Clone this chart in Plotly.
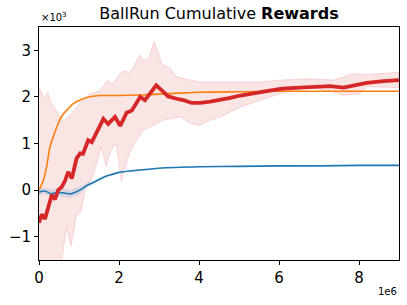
import plotly.graph_objects as go

# x in millions of steps, y in thousands of reward
red_x = [0.0, 0.07, 0.15, 0.23, 0.32, 0.40, 0.48, 0.57, 0.65, 0.73, 0.82, 0.94, 1.03, 1.10, 1.23, 1.32,
         1.42, 1.53, 1.61, 1.73, 1.90, 2.03, 2.19, 2.32, 2.44, 2.53, 2.65, 2.78, 2.93, 3.07, 3.23, 3.44,
         3.61, 3.82, 4.03, 4.28, 4.53, 4.78, 5.03, 5.28, 5.53, 5.78, 6.03, 6.28, 6.53, 6.78, 7.03, 7.28,
         7.61, 7.86, 8.19, 8.61, 9.0]
red_y = [-0.70, -0.52, -0.62, -0.36, -0.10, -0.20, 0.00, 0.07, 0.20, 0.39, 0.25, 0.68, 0.79, 0.78, 1.07, 1.03,
         1.20, 1.39, 1.53, 1.42, 1.57, 1.38, 1.66, 1.71, 1.86, 2.00, 1.93, 2.07, 2.25, 2.14, 2.01, 1.96,
         1.93, 1.87, 1.87, 1.90, 1.93, 1.98, 2.03, 2.07, 2.10, 2.14, 2.17, 2.19, 2.20, 2.23, 2.24, 2.23,
         2.20, 2.25, 2.30, 2.34, 2.36]

red_up_x = [0.0, 0.13, 0.22, 0.30, 0.43, 0.59, 0.76, 1.01, 1.26, 1.51, 1.72, 1.84, 2.01, 2.13, 2.28, 2.53,
            2.61, 2.73, 2.88, 3.07, 3.28, 3.44, 3.78, 4.03, 4.78, 5.53, 6.03, 6.78, 7.36, 7.86, 8.19, 8.69, 9.0]
red_up_y = [2.20, 1.99, 2.10, 1.88, 1.71, 1.46, 1.60, 1.85, 2.06, 2.13, 2.35, 2.28, 2.49, 2.56, 2.53, 2.90,
            2.78, 2.80, 3.20, 2.71, 2.61, 2.43, 2.36, 2.32, 2.32, 2.32, 2.36, 2.39, 2.36, 2.50, 2.48, 2.51, 2.53]

red_lo_x = [0.0, 0.45, 0.57, 0.69, 0.80, 0.93, 1.05, 1.18, 1.30, 1.47, 1.55, 1.68, 1.80, 1.93, 2.06, 2.26,
            2.43, 2.61, 2.86, 3.11, 3.53, 3.78, 4.03, 4.28, 4.53, 5.03, 5.53, 6.03, 6.53, 6.78, 7.36, 7.61,
            8.03, 8.19, 9.0]
red_lo_y = [-2.6, -2.0, -1.5, -0.79, -1.21, -0.57, -0.46, 0.11, 0.20, 0.64, 0.93, 0.50, 0.86, 1.00, 0.20, 0.79,
            1.07, 1.28, 1.39, 1.50, 1.57, 1.43, 1.39, 1.50, 1.57, 1.78, 1.93, 2.07, 2.18, 2.20, 2.10, 2.03,
            2.07, 2.22, 2.20]

orange_x = [0.0, 0.11, 0.20, 0.275, 0.38, 0.48, 0.58, 0.69, 0.85, 1.1, 1.3, 1.53, 2.0, 2.5, 3.0, 3.5, 4.0,
            5.0, 6.0, 7.0, 8.0, 9.0]
orange_y = [0.0, 0.21, 0.55, 0.93, 1.20, 1.43, 1.60, 1.71, 1.85, 1.96, 2.01, 2.03, 2.03, 2.04, 2.06, 2.08, 2.10,
            2.11, 2.12, 2.12, 2.12, 2.12]

blue_x = [0.0, 0.15, 0.3, 0.45, 0.6, 0.8, 1.0, 1.2, 1.4, 1.6, 1.8, 2.0, 2.5, 3.0, 4.0, 5.0, 6.0, 7.0, 8.0, 9.0]
blue_y = [-0.04, -0.02, -0.08, -0.05, -0.06, -0.08, -0.01, 0.10, 0.18, 0.27, 0.33, 0.38, 0.43, 0.47, 0.50,
          0.51, 0.52, 0.52, 0.53, 0.53]
blue_err = [0.07, 0.07, 0.08, 0.09, 0.09, 0.09, 0.08, 0.05, 0.03, 0.02, 0.02, 0.02, 0.015, 0.01, 0.01,
            0.01, 0.01, 0.01, 0.01, 0.01]

x_ticks = [0, 2, 4, 6, 8]
y_ticks = [-1, 0, 1, 2, 3]

RED = "#d62728"
ORANGE = "#ff7f0e"
BLUE = "#1f77b4"
FONT = "DejaVu Sans"

fig = go.Figure()

# red band
fig.add_trace(go.Scatter(x=red_up_x + red_lo_x[::-1], y=red_up_y + red_lo_y[::-1], fill="toself",
                         fillcolor="rgba(214,39,40,0.12)", line=dict(color="rgba(214,39,40,0.15)", width=1),
                         mode="lines", hoverinfo="skip", showlegend=False))

# blue band
b_up = [m + e for m, e in zip(blue_y, blue_err)]
b_lo = [m - e for m, e in zip(blue_y, blue_err)]
fig.add_trace(go.Scatter(x=blue_x + blue_x[::-1], y=b_up + b_lo[::-1], fill="toself",
                         fillcolor="rgba(31,119,180,0.15)", line=dict(width=0), mode="lines",
                         hoverinfo="skip", showlegend=False))

fig.add_trace(go.Scatter(x=orange_x, y=orange_y, mode="lines",
                         line=dict(color=ORANGE, width=1.6, shape="spline", smoothing=0.8), showlegend=False))
fig.add_trace(go.Scatter(x=blue_x, y=blue_y, mode="lines",
                         line=dict(color=BLUE, width=1.6, shape="spline", smoothing=0.8), showlegend=False))
fig.add_trace(go.Scatter(x=red_x, y=red_y, mode="lines",
                         line=dict(color=RED, width=3.8), showlegend=False))

axis_common = dict(showgrid=False, zeroline=False, showline=True, linecolor="black", linewidth=1,
                   mirror=True, ticks="outside", ticklen=4, tickwidth=1, tickcolor="black", automargin=False,
                   tickfont=dict(family=FONT, size=15, color="black"))

fig.update_layout(
    template="none",
    width=407, height=305,
    margin=dict(l=39, r=8, t=27, b=45, autoexpand=False),
    paper_bgcolor="white", plot_bgcolor="white",
    title=dict(text="BallRun Cumulative <b>Rewards</b>", x=0.538, xanchor="center", y=0.955, yanchor="middle",
               font=dict(family=FONT, size=16, color="black")),
    xaxis=dict(range=[0, 9], tickvals=x_ticks, ticktext=[str(v) for v in x_ticks], **axis_common),
    yaxis=dict(range=[-1.5, 3.5], tickvals=y_ticks, ticktext=[str(v).replace("-", "\u2212") for v in y_ticks],
               **axis_common),
    annotations=[
        dict(text="×10<sup>3</sup>", xref="paper", yref="paper", x=0, y=1.0, xanchor="left", yanchor="bottom",
             yshift=2, showarrow=False, font=dict(family=FONT, size=10, color="black")),
        dict(text="1e6", xref="paper", yref="paper", x=1.0, y=0, xanchor="right", yanchor="top",
             yshift=-24, showarrow=False, font=dict(family=FONT, size=10, color="black")),
    ],
)

fig.write_html("out.html", config={"displayModeBar": False},
               post_script="document.body.style.margin='0';document.body.style.padding='0';")
